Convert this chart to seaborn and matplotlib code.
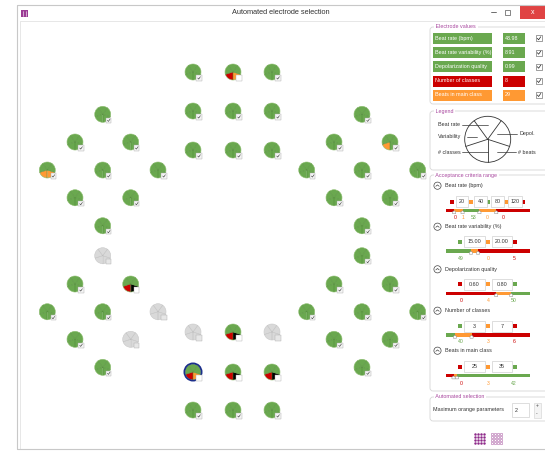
import matplotlib
matplotlib.use("Agg")
import numpy as np
import pandas as pd
import matplotlib.pyplot as plt
import seaborn as sns
from matplotlib.patches import Wedge, Rectangle, FancyBboxPatch, Circle, Polygon

# electrode layout (pixel positions of the MEA picture)
side_rows = [114.3, 142.0, 170.0, 197.7, 225.7, 255.7, 284.0, 311.7, 339.3, 367.3]
left_cols = [47.3, 75.0, 102.7, 130.7, 158.0]
right_cols = [306.7, 334.0, 362.0, 390.0, 417.7]
side_pattern = [[2], [1, 3], [0, 2, 4], [1, 3], [2], [2], [1, 3], [0, 2, 4], [1, 3], [2]]
center_cols = [193, 233, 272]
center_rows = [72, 111, 150, 332, 372, 410]

# slice states: rate, variability, classes, beats, depol  (g ok, o orange, r red, k black, x disabled)
state_overrides = {
    ("L", 2, 0): "ggoog", ("L", 5, 2): "xxxxx", ("L", 6, 3): "ggrkg",
    ("L", 7, 4): "xxxxx", ("L", 8, 3): "xxxxx",
    ("R", 1, 3): "ggogg",
    ("C", 0, 1): "ggrog", ("C", 3, 0): "xxxxx", ("C", 3, 1): "ggrkg",
    ("C", 3, 2): "xxxxx", ("C", 4, 0): "ggrog", ("C", 4, 1): "ggrkg", ("C", 4, 2): "ggrkg",
}
selected = [("C", 4, 0)]

value_names = ["Beat rate (bpm)", "Beat rate variability (%)", "Depolarization quality",
               "Number of classes", "Beats in main class"]
value_numbers = ["43.98", "8.91", "0.99", "8", "29"]
value_status = ["g", "g", "g", "r", "o"]

criteria_names = value_names
criteria_thresholds = [["20", "40", "80", "120"], ["15.00", "20.00"], ["0.60", "0.80"], ["3", "7"], ["25", "35"]]
criteria_values = [[20, 40, 80, 120], [15, 20], [0.6, 0.8], [3, 7], [25, 35]]
criteria_colors = ["rogor", "gor", "rog", "gor", "rog"]
criteria_counts = [[0, 1, 53, 0, 0], [49, 0, 5], [0, 4, 50], [40, 3, 6], [0, 3, 42]]
criteria_range = [(0, 200), (-3, 57), (-0.07, 1.05), (0.8, 21), (2, 250)]

GREEN, RED, ORANGE, GREY = "#6aa84f", "#cc0000", "#ff9933", "#d9d9d9"
PURPLE = "#a9489f"
col = {"g": GREEN, "o": ORANGE, "r": RED, "k": "black", "x": GREY}

sns.set_theme(style="white")
plt.rcParams["font.family"] = ["Liberation Sans", "DejaVu Sans"]

W, H = 545, 454
fig = plt.figure(figsize=(W / 100, H / 100), dpi=100)
ax = fig.add_axes([0, 0, 1, 1])
ax.set_xlim(0, W)
ax.set_ylim(0, H)
ax.axis("off")


def T(y):
    return H - y


# ---- window frame
ax.plot([17, 17, W], [T(449), T(5), T(5)], color="#c8c8c8", lw=0.8)
ax.plot([20, 20, W], [T(449), T(21), T(21)], color="#e3e3e3", lw=0.6)
ax.plot([17, W], [T(449), T(449)], color="#c8c8c8", lw=0.8)
ax.add_patch(Rectangle((21, T(17)), 7, 7, fc="#9b3b94", ec="none"))
for xx in (23.3, 25.6):
    ax.plot([xx, xx], [T(16), T(11)], color="white", lw=0.4)
ax.text(281, T(12.5), "Automated electrode selection", fontsize=5.3, color="#333333", ha="center", va="center")
ax.plot([491, 496], [T(12), T(12)], color="#555555", lw=0.6)
ax.add_patch(Rectangle((505, T(15)), 5, 5, fill=False, ec="#555555", lw=0.5))
ax.add_patch(Rectangle((520, T(19)), 26, 14, fc="#e04343", ec="none"))
ax.text(533, T(12), "x", color="white", fontsize=5, ha="center", va="center")

# ---- electrodes
rows = []
for cl, cols in (("L", left_cols), ("R", right_cols)):
    for r, cidx in enumerate(side_pattern):
        for c in cidx:
            rows.append(dict(cluster=cl, row=r, col=c, x=cols[c], y=side_rows[r]))
for r, y in enumerate(center_rows):
    for c, x in enumerate(center_cols):
        rows.append(dict(cluster="C", row=r, col=c, x=x, y=y))
df = pd.DataFrame(rows)
keys = list(zip(df.cluster, df.row, df.col))
df["state"] = [state_overrides.get(k, "ggggg") for k in keys]
df["sel"] = [k in selected for k in keys]

R = 8
for x, y, s, sel in zip(df.x, df.y, df.state, df.sel):
    cy = T(y)
    for i, ch in enumerate(s):
        ax.add_patch(Wedge((x, cy), R, 54 + 72 * i, 126 + 72 * i, fc=col[ch], ec="none", lw=0))
    lc = "#b8b8b8" if s[0] == "x" else "#4d8a33"
    for k in range(5):
        a = np.deg2rad(54 + 72 * k)
        ax.plot([x, x + R * np.cos(a)], [cy, cy + R * np.sin(a)], color=lc, lw=0.35)
    ax.add_patch(Circle((x, cy), R, fill=False, ec="#c9c9c9" if s[0] == "x" else "#8fbf72", lw=0.4))
    if sel:
        ax.add_patch(Circle((x, cy), R + 0.6, fill=False, ec="#1c2f8c", lw=1.3))

# selection boxes
def box_kind(s):
    if s[0] == "x":
        return "disabled"
    if "r" in s:
        return "unchecked"
    return "checked"

df["box"] = [box_kind(s) for s in df.state]
df["bx"] = df.x + 6
df["by"] = T(df.y + 6)
sns.scatterplot(data=df, x="bx", y="by", hue="box", marker="s", s=14, linewidth=0.3,
                palette={"checked": "#f4f4f4", "unchecked": "white", "disabled": "#e6e6e6"},
                edgecolor="#aaaaaa", legend=False, ax=ax, zorder=5)
for x, y in zip(df.bx[df.box == "checked"], df.y[df.box == "checked"] + 6):
    ax.plot([x - 1.3, x - 0.3, x + 1.4], [T(y), T(y + 1.1), T(y - 1.3)], color="#333333", lw=0.4, zorder=6)
ax.set_xlim(0, W)
ax.set_ylim(0, H)
ax.set_xlabel("")
ax.set_ylabel("")


# ---- right panel
def group(y0, y1, title):
    ax.add_patch(FancyBboxPatch((430, T(y1)), 130, y1 - y0, boxstyle="round,pad=0,rounding_size=3",
                                fill=False, ec="#d6d6d6", lw=0.6))
    ax.text(434, T(y0), " " + title + " ", color=PURPLE, fontsize=3.9, ha="left", va="center",
            bbox=dict(fc="white", ec="none", pad=0.2))


group(27, 104, "Electrode values")
row_y = [38.3, 52.7, 66.7, 81.0, 95.0]
for name, val, st, y in zip(value_names, value_numbers, value_status, row_y):
    c = col[st]
    ax.add_patch(Rectangle((433, T(y + 5.5)), 59, 11, fc=c, ec="none"))
    ax.add_patch(Rectangle((503, T(y + 5.5)), 22, 11, fc=c, ec="none"))
    ax.text(435, T(y), name, color="white", fontsize=3.9, ha="left", va="center")
    ax.text(505, T(y), val, color="white", fontsize=3.9, ha="left", va="center")
    ax.add_patch(Rectangle((536, T(y + 3)), 6, 6, fc="white", ec="#555555", lw=0.4))
    ax.plot([537.3, 538.6, 540.8], [T(y), T(y + 1.5), T(y - 1.6)], color="#222222", lw=0.5)

group(111, 170, "Legend")
lc = (487.7, T(139.3))
ax.add_patch(Circle(lc, 23, fill=False, ec="#333333", lw=0.6))
for k in range(5):
    a = np.deg2rad(54 + 72 * k)
    ax.plot([lc[0], lc[0] + 23 * np.cos(a)], [lc[1], lc[1] + 23 * np.sin(a)], color="#333333", lw=0.6)
legend_text = [("Beat rate", 438, 125, 461.7, 488.3), ("Variability", 438, 136.7, 466.7, 476.7),
               ("# classes", 438, 152.3, 461.7, 488.3)]
for t, tx, ty, l0, l1 in legend_text:
    ax.text(tx, T(ty), t, fontsize=3.9, color="#333333", ha="left", va="center")
    ax.plot([l0, l1], [T(ty), T(ty)], color="#333333", lw=0.5)
for t, tx, ty, l0, l1 in [("Depol.", 520, 134, 496.7, 516.7), ("# beats", 518.3, 152.3, 496.7, 515.5)]:
    ax.text(tx, T(ty), t, fontsize=3.9, color="#333333", ha="left", va="center")
    ax.plot([l0, l1], [T(ty), T(ty)], color="#333333", lw=0.5)

group(175, 391, "Acceptance criteria range")
head_y = [185.7, 226.7, 269.3, 310.7, 350.7]
boxrow_y = [201.7, 241.7, 284, 326, 366.7]
bar_y = [210.5, 251, 293.3, 335, 375.7]
count_y = [217.5, 258.3, 300, 341.7, 383.3]
bx0, bx1 = 445.7, 530
for i in range(5):
    hy = head_y[i]
    ax.add_patch(Circle((437.5, T(hy)), 3.6, fill=False, ec="#444444", lw=0.5))
    ax.plot([435.8, 437.5, 439.2], [T(hy + 0.6), T(hy - 0.8), T(hy + 0.6)], color="#444444", lw=0.5)
    ax.text(445, T(hy), criteria_names[i], fontsize=3.9, color="#333333", ha="left", va="center")

    thr = criteria_thresholds[i]
    cols_i = criteria_colors[i]
    if len(thr) == 4:
        sq_x = [451.7, 471, 488.3, 505.7, 523]
        boxes = [(456, 468), (474.3, 486.7), (491, 504), (508, 521.7)]
        cnt_x = [455, 463.3, 473.3, 486.7, 503.3]
    else:
        sq_x = [460, 488, 515]
        boxes = [(464, 485), (492, 512)]
        cnt_x = [461, 488, 514]
    by = boxrow_y[i]
    for sx, ch in zip(sq_x, cols_i):
        ax.add_patch(Rectangle((sx - 2, T(by + 2)), 4, 4, fc=col[ch], ec="none"))
    for (b0, b1), t in zip(boxes, thr):
        ax.add_patch(Rectangle((b0, T(by + 5.5)), b1 - b0, 11, fc="white", ec="#d0d0d0", lw=0.5))
        ax.text((b0 + b1) / 2, T(by), t, fontsize=3.9, color="#333333", ha="center", va="center")

    lo, hi = criteria_range[i]
    edges = [lo] + criteria_values[i] + [hi]
    px = [bx0 + (e - lo) / (hi - lo) * (bx1 - bx0) for e in edges]
    yb = bar_y[i]
    for a, b, ch in zip(px[:-1], px[1:], cols_i):
        ax.add_patch(Rectangle((a, T(yb + 1.6)), b - a, 3.2, fc=col[ch], ec="none"))
    for p in px[1:-1]:
        ax.add_patch(Polygon([(p - 1.6, T(yb + 3.2)), (p + 1.6, T(yb + 3.2)), (p + 1.6, T(yb + 1.4)),
                              (p, T(yb + 0.2)), (p - 1.6, T(yb + 1.4))], closed=True,
                             fc="white", ec="#888888", lw=0.35, zorder=4))
    for cx, n, ch in zip(cnt_x, criteria_counts[i], cols_i):
        ax.text(cx, T(count_y[i]), str(n), fontsize=3.7, color=col[ch], ha="center", va="center")

group(397, 421, "Automated selection")
ax.text(433, T(410), "Maximum orange parameters", fontsize=3.9, color="#333333", ha="left", va="center")
ax.add_patch(Rectangle((512, T(417)), 17, 14, fc="white", ec="#d0d0d0", lw=0.5))
ax.text(515, T(410), "2", fontsize=3.9, color="#333333", ha="left", va="center")
ax.add_patch(Rectangle((533.5, T(418)), 7, 15, fc="#f4f4f4", ec="#d0d0d0", lw=0.4))
ax.text(537, T(405.5), "+", fontsize=3.6, color="#444444", ha="center", va="center")
ax.text(537, T(414), "-", fontsize=3.6, color="#444444", ha="center", va="center")

gx = np.linspace(474.5, 484, 4)
gy = np.linspace(433.5, 443, 4)
GX, GY = np.meshgrid(gx, gy)
ax.scatter(GX.ravel(), T(GY.ravel()), s=3.2, color="#8e2a8a", linewidths=0)
ax.scatter(GX.ravel() + 17, T(GY.ravel()), s=3.2, facecolors="white", edgecolors="#b067aa", linewidths=0.4)

fig.savefig("out.png", dpi=100)
